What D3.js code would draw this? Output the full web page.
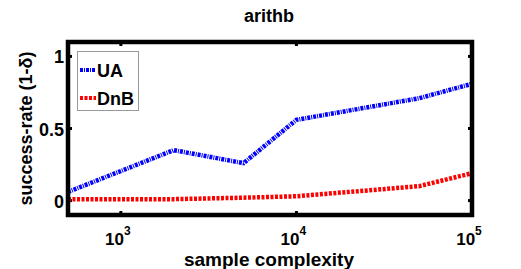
<!DOCTYPE html>
<html>
<head>
<meta charset="utf-8">
<script src="https://cdn.jsdelivr.net/npm/d3@7"></script>
<style>
  body { margin: 0; background: #fff; }
  text { font-family: "Liberation Sans", Arial, sans-serif; font-weight: bold; }
</style>
</head>
<body>
<svg id="chart"></svg>
<script>
const width = 521;
const height = 269;

// data
const sampleSizes = [500, 2000, 5000, 10000, 50000, 100000];
const uaValues = [0.06, 0.35, 0.26, 0.56, 0.71, 0.81];
const dnbValues = [0.01, 0.01, 0.02, 0.03, 0.10, 0.19];
const xTicks = [1e3, 1e4, 1e5];
const xTickExp = ["3", "4", "5"];
const yTicks = [0, 0.5, 1];
const yTickLabels = ["0", "0.5", "1"];

const margin = { top: 42, right: 49, bottom: 54, left: 68 };

const svg = d3.select("#chart")
  .attr("width", width)
  .attr("height", height);

const x = d3.scaleLog()
  .domain([500, 1e5])
  .range([margin.left, width - margin.right]);

const y = d3.scaleLinear()
  .domain([-0.1, 1.1])
  .range([height - margin.bottom, margin.top]);

// title
svg.append("text")
  .attr("x", 269)
  .attr("y", 22)
  .attr("text-anchor", "middle")
  .attr("font-size", 18)
  .text("arithb");

// ticks on all four sides
const g = svg.append("g");
g.selectAll(".xtb")
  .data(xTicks)
  .join("line")
  .attr("x1", d => x(d)).attr("x2", d => x(d))
  .attr("y1", y.range()[0]).attr("y2", y.range()[0] - 4)
  .attr("stroke", "#000").attr("stroke-width", 3);
g.selectAll(".xtt")
  .data(xTicks)
  .join("line")
  .attr("x1", d => x(d)).attr("x2", d => x(d))
  .attr("y1", y.range()[1]).attr("y2", y.range()[1] + 4)
  .attr("stroke", "#000").attr("stroke-width", 3);
g.selectAll(".ytl")
  .data(yTicks)
  .join("line")
  .attr("x1", x.range()[0]).attr("x2", x.range()[0] + 4)
  .attr("y1", d => y(d)).attr("y2", d => y(d))
  .attr("stroke", "#000").attr("stroke-width", 3);
g.selectAll(".ytr")
  .data(yTicks)
  .join("line")
  .attr("x1", x.range()[1]).attr("x2", x.range()[1] - 4)
  .attr("y1", d => y(d)).attr("y2", d => y(d))
  .attr("stroke", "#000").attr("stroke-width", 3);

// lines
const line = d3.line()
  .x((d, i) => x(sampleSizes[i]))
  .y(d => y(d));

svg.append("path")
  .datum(dnbValues)
  .attr("d", line)
  .attr("fill", "none")
  .attr("stroke", "#ff0000")
  .attr("stroke-width", 4.5)
  .attr("stroke-dasharray", "3,1.5");

svg.append("path")
  .datum(uaValues)
  .attr("d", line)
  .attr("fill", "none")
  .attr("stroke", "#0000ff")
  .attr("stroke-width", 4.5)
  .attr("stroke-dasharray", "3,1,1,1");

// frame
svg.append("rect")
  .attr("x", x.range()[0])
  .attr("y", y.range()[1])
  .attr("width", x.range()[1] - x.range()[0])
  .attr("height", y.range()[0] - y.range()[1])
  .attr("fill", "none")
  .attr("stroke", "#000")
  .attr("stroke-width", 4.5);

// y tick labels
svg.selectAll(".ylab")
  .data(yTicks)
  .join("text")
  .attr("x", x.range()[0] - 4)
  .attr("y", d => y(d) + 7)
  .attr("text-anchor", "end")
  .attr("font-size", 18)
  .text((d, i) => yTickLabels[i]);

// x tick labels as 10^n
const xl = svg.selectAll(".xlab")
  .data(xTicks)
  .join("text")
  .attr("x", d => x(d) - 3)
  .attr("y", 245)
  .attr("text-anchor", "middle")
  .attr("font-size", 17);
xl.append("tspan").text("10");
xl.append("tspan")
  .attr("dy", -10)
  .attr("font-size", 12)
  .text((d, i) => xTickExp[i]);

// axis labels
svg.append("text")
  .attr("x", 269)
  .attr("y", 266)
  .attr("text-anchor", "middle")
  .attr("font-size", 19)
  .text("sample complexity");

svg.append("text")
  .attr("transform", `translate(32, ${(y.range()[0] + y.range()[1]) / 2}) rotate(-90)`)
  .attr("text-anchor", "middle")
  .attr("font-size", 18)
  .text("success-rate (1-δ)");

// legend
const legend = svg.append("g");
legend.append("rect")
  .attr("x", 77.5).attr("y", 51.5)
  .attr("width", 61).attr("height", 59)
  .attr("fill", "#fff")
  .attr("stroke", "#999").attr("stroke-width", 1);

const legendItems = [
  { name: "UA", color: "#0000ff", dash: "3,1,1,1" },
  { name: "DnB", color: "#ff0000", dash: "3,1.5" }
];
legend.selectAll(".li")
  .data(legendItems)
  .join("line")
  .attr("x1", 80).attr("x2", 96)
  .attr("y1", (d, i) => 70 + i * 28).attr("y2", (d, i) => 70 + i * 28)
  .attr("stroke", d => d.color)
  .attr("stroke-width", 4)
  .attr("stroke-dasharray", d => d.dash);
legend.selectAll(".lt")
  .data(legendItems)
  .join("text")
  .attr("x", 97)
  .attr("y", (d, i) => 77 + i * 28)
  .attr("font-size", 18)
  .text(d => d.name);
</script>
</body>
</html>
